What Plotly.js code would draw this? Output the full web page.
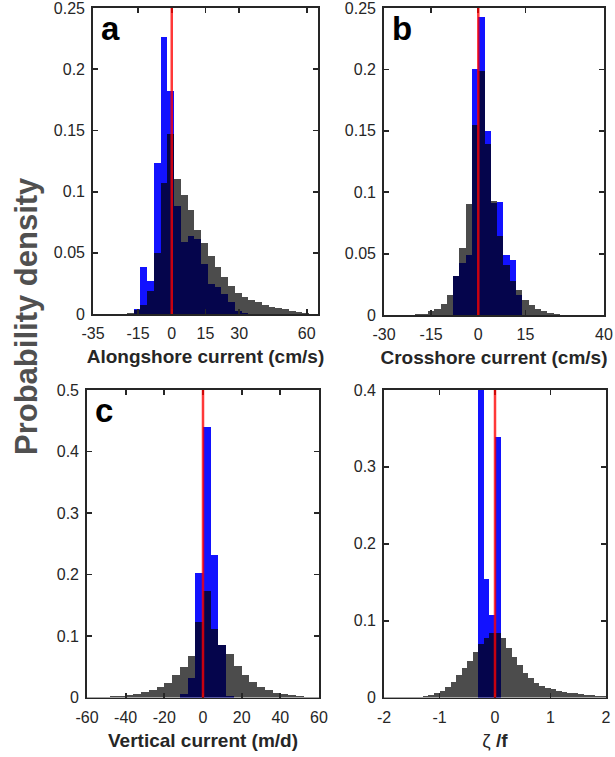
<!DOCTYPE html>
<html><head><meta charset="utf-8">
<script src="https://cdn.plot.ly/plotly-3.0.1.min.js"></script>
<style>html,body{margin:0;padding:0;background:#fff;} #chart{width:615px;height:757px;}</style>
</head><body><div id="chart"></div>
<script>
// ---------- data ----------
// Panel a: alongshore current (cm/s), bin width 3
const aBins = [-18.5,-15.5,-12.5,-9.5,-6.5,-3.5,-0.5,2.5,5.5,8.5,11.5,14.5,17.5,20.5,23.5,26.5,29.5,32.5,35.5,38.5,41.5,44.5,47.5,50.5,53.5,56.5,59.5];
const aGray = [0.001,0.0035,0.0076,0.0185,0.050,0.107,0.147,0.110,0.097,0.085,0.0686,0.058,0.0476,0.038,0.030,0.023,0.0172,0.0136,0.0114,0.0095,0.0076,0.006,0.0049,0.0038,0.0027,0.0016,0.0006];
const aBlue = [0,0.004,0.038,0.0267,0.123,0.226,0.182,0.0885,0.059,0.064,0.061,0.041,0.0245,0.0218,0.0165,0.0095,0.0027,0.001,0,0,0,0,0,0,0,0,0];
const aWidth = 3;
const aTicks = [-35,-15,0,15,30,60];
const aYTicks = [0,0.05,0.1,0.15,0.2,0.25];

// Panel b: crosshore current (cm/s), bin width 2
const bBins = [-19,-17,-15,-13,-11,-9,-7,-5,-3,-1,1,3,5,7,9,11,13,15,17,19,21,23,25];
const bGray = [0.0005,0.001,0.003,0.005,0.0092,0.0166,0.032,0.0546,0.090,0.155,0.199,0.139,0.093,0.064,0.041,0.028,0.0203,0.0125,0.0084,0.0049,0.003,0.0015,0.0005];
const bBlue = [0,0,0,0,0,0,0.032,0.042,0.049,0.200,0.243,0.150,0.091,0.092,0.049,0.045,0.016,0,0,0,0,0,0];
const bWidth = 2;
const bTicks = [-30,-15,0,15,40];
const bYTicks = [0,0.05,0.1,0.15,0.2,0.25];

// Panel c: vertical current (m/d), bin width 4
const cBins = [-58,-54,-50,-46,-42,-38,-34,-30,-26,-22,-18,-14,-10,-6,-2,2,6,10,14,18,22,26,30,34,38,42,46,50,54,58];
const cGray = [0.0005,0.001,0.0015,0.002,0.003,0.0045,0.006,0.0085,0.012,0.017,0.024,0.036,0.049,0.0676,0.123,0.173,0.111,0.086,0.070,0.051,0.036,0.025,0.017,0.012,0.008,0.0054,0.0038,0.0027,0.0016,0.001];
const cBlue = [0,0,0,0,0,0,0,0,0,0,0,0,0.005,0.031,0.202,0.440,0.231,0.085,0.003,0,0,0,0,0,0,0,0,0,0,0];
const cWidth = 4;
const cTicks = [-60,-40,-20,0,20,40,60];
const cYTicks = [0,0.1,0.2,0.3,0.4,0.5];

// Panel d: zeta/f, bin width 0.1
const dBins = [-1.95,-1.85,-1.75,-1.65,-1.55,-1.45,-1.35,-1.25,-1.15,-1.05,-0.95,-0.85,-0.75,-0.65,-0.55,-0.45,-0.35,-0.25,-0.15,-0.05,0.05,0.15,0.25,0.35,0.45,0.55,0.65,0.75,0.85,0.95,1.05,1.15,1.25,1.35,1.45,1.55,1.65,1.75,1.85,1.95];
const dGray = [0.0002,0.0003,0.0003,0.0004,0.0005,0.0008,0.0012,0.002,0.0032,0.0053,0.0088,0.014,0.0205,0.029,0.038,0.048,0.0587,0.070,0.078,0.0835,0.084,0.077,0.065,0.053,0.042,0.032,0.025,0.019,0.0153,0.0127,0.0105,0.0088,0.0075,0.0062,0.0053,0.0045,0.0037,0.0028,0.0024,0.002];
const dBlue = [0,0,0,0,0,0,0,0,0,0,0,0,0,0,0,0,0,0.47,0.154,0.107,0.339,0,0,0,0,0,0,0,0,0,0,0,0,0,0,0,0,0,0,0];
const dWidth = 0.1;
const dTicks = [-2,-1,0,1,2];
const dYTicks = [0,0.1,0.2,0.3,0.4];

const zeroLine = 0;
const panelLetters = ['a','b','c',''];
const xTitles = ['Alongshore current (cm/s)','Crosshore current (cm/s)','Vertical current (m/d)','ζ <b>/f</b>'];
const yLabel = 'Probability density';

// ---------- styles ----------
const BLUE = 'rgb(18,18,255)';
const GRAY = 'rgba(0,0,0,0.70)';
const RED = 'rgba(255,0,0,0.78)';
const INK = '#262626';
const FONT = 'Liberation Sans, Arial, sans-serif';

const panels = [
  {bins:aBins, gray:aGray, blue:aBlue, w:aWidth, ticks:aTicks, yt:aYTicks, xr:[-35,65], yr:[0,0.25], xd:[93/615,318/615], yd:[(757-314)/757,(757-8)/757]},
  {bins:bBins, gray:bGray, blue:bBlue, w:bWidth, ticks:bTicks, yt:bYTicks, xr:[-30,40], yr:[0,0.25], xd:[384/615,604/615], yd:[(757-315)/757,(757-8)/757]},
  {bins:cBins, gray:cGray, blue:cBlue, w:cWidth, ticks:cTicks, yt:cYTicks, xr:[-60,60], yr:[0,0.5], xd:[87/615,319/615], yd:[(757-697.5)/757,(757-390)/757]},
  {bins:dBins, gray:dGray, blue:dBlue, w:dWidth, ticks:dTicks, yt:dYTicks, xr:[-2,2], yr:[0,0.4], xd:[384/615,606/615], yd:[(757-697.5)/757,(757-390)/757]}
];

const data = [];
const layout = {
  width:615, height:757, margin:{l:0,r:0,t:0,b:0},
  paper_bgcolor:'#fff', plot_bgcolor:'#fff',
  barmode:'overlay', bargap:0, showlegend:false,
  font:{family:FONT, color:INK},
  shapes:[], annotations:[]
};

panels.forEach((p,i)=>{
  const n = i===0 ? '' : String(i+1);
  const xa = 'x'+n, ya = 'y'+n;
  data.push({type:'bar', x:p.bins, y:p.blue, width:p.w, xaxis:xa, yaxis:ya,
    marker:{color:BLUE, line:{width:0}}, hoverinfo:'skip'});
  data.push({type:'bar', x:p.bins, y:p.gray, width:p.w, xaxis:xa, yaxis:ya,
    marker:{color:GRAY, line:{width:0}}, hoverinfo:'skip'});
  const common = {showline:true, linecolor:INK, linewidth:1.8, mirror:'ticks',
    ticks:'inside', ticklen:5, tickwidth:1.8, tickcolor:INK, showgrid:false, zeroline:false,
    ticklabeloverflow:'allow', tickmode:'array',
    tickfont:{family:FONT, size:16, color:INK}};
  layout['xaxis'+n] = Object.assign({}, common, {domain:p.xd, range:p.xr, anchor:ya,
    tickvals:p.ticks, ticktext:p.ticks.map(String), ticklabelstandoff:4,
    title:{text:xTitles[i], font:{family:FONT, size:19, color:INK, weight: i===3 ? 'normal':'bold'}, standoff:9}});
  layout['yaxis'+n] = Object.assign({}, common, {domain:p.yd, range:p.yr, anchor:xa,
    tickvals:p.yt, ticktext:p.yt.map(String), ticklabelstandoff:3});
  layout.shapes.push({type:'line', xref:xa, yref:ya+' domain', x0:zeroLine, x1:zeroLine, y0:0, y1:1,
    line:{color:RED, width:2.5}, layer:'above'});
  if (panelLetters[i]) {
    layout.annotations.push({text:'<b>'+panelLetters[i]+'</b>', xref:xa+' domain', yref:ya+' domain',
      x:0.025, y:1.0, xanchor:'left', yanchor:'top', showarrow:false,
      font:{family:FONT, size:33, color:'#000'}});
  }
});

layout.annotations.push({text:'<b>'+yLabel+'</b>', xref:'paper', yref:'paper',
  x:26/615, y:(757-316)/757, xanchor:'center', yanchor:'middle', textangle:-90, showarrow:false,
  font:{family:FONT, size:31, color:'#505050'}});

Plotly.newPlot('chart', data, layout, {staticPlot:true, displayModeBar:false});
</script>
</body></html>
